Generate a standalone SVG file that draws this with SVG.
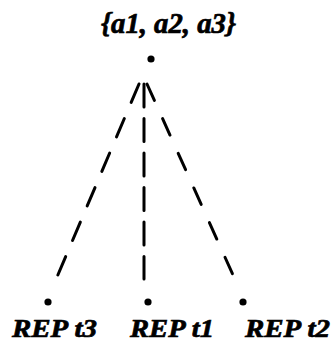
<svg xmlns="http://www.w3.org/2000/svg" width="332" height="347" viewBox="0 0 332 347">
<style>
.lbl{font-family:"Liberation Serif","Times New Roman",serif;font-weight:bold;font-style:italic;fill:#000;stroke:#000;stroke-width:0.7}
.dot{fill:#000}
.edge{stroke:#000;stroke-width:3;fill:none;stroke-linecap:round}
</style>
<rect width="332" height="347" fill="#fff"/>
<g id="connectors">
<line class="edge" x1="139" y1="84" x2="57" y2="277" stroke-dasharray="20 17.5"/>
<line class="edge" x1="144" y1="84" x2="144" y2="279" stroke-dasharray="23 11.5"/>
<line class="edge" x1="147" y1="84" x2="233" y2="275" stroke-dasharray="18 20"/>
</g>
<g id="root">
<circle class="dot" cx="151" cy="59" r="3.6"/>
<text class="lbl" x="101" y="33" font-size="29" textLength="135" lengthAdjust="spacingAndGlyphs">{a1, a2, a3}</text>
</g>
<g id="rep-t3">
<circle class="dot" cx="48" cy="302" r="3.6"/>
<text class="lbl" x="12" y="337" font-size="26" textLength="85" lengthAdjust="spacingAndGlyphs">REP t3</text>
</g>
<g id="rep-t1">
<circle class="dot" cx="148" cy="302" r="3.6"/>
<text class="lbl" x="130" y="337" font-size="26" textLength="84" lengthAdjust="spacingAndGlyphs">REP t1</text>
</g>
<g id="rep-t2">
<circle class="dot" cx="243" cy="302" r="3.6"/>
<text class="lbl" x="245" y="337" font-size="26" textLength="85" lengthAdjust="spacingAndGlyphs">REP t2</text>
</g>
</svg>
